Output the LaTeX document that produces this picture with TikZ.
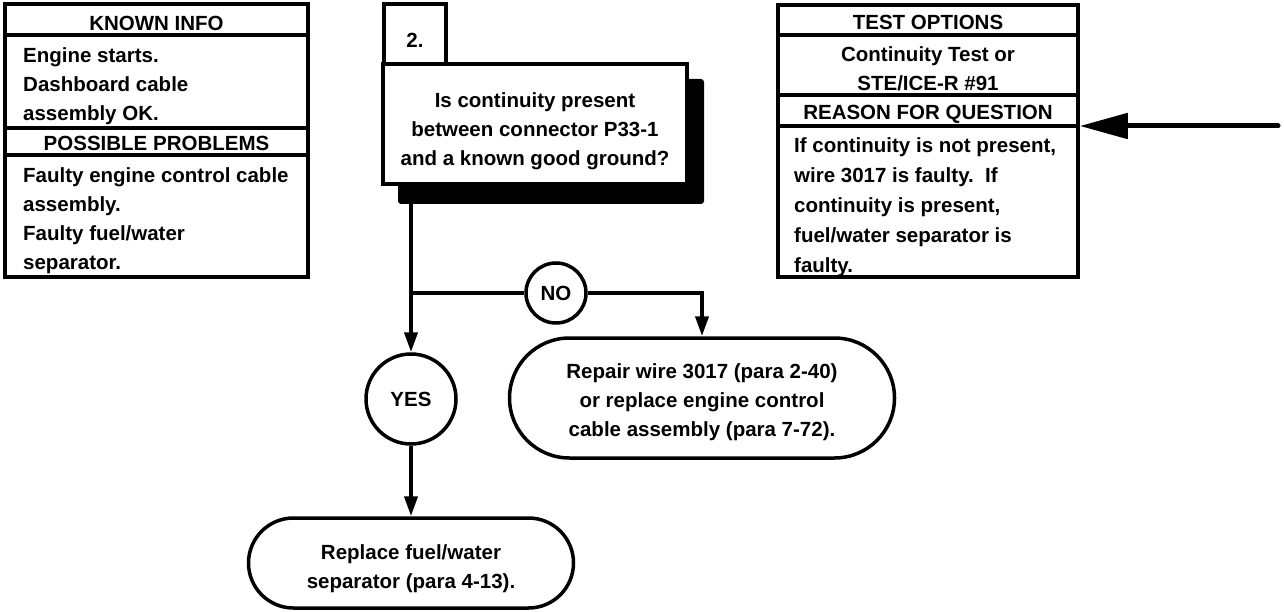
\documentclass[tikz,border=0pt]{standalone}
\usepackage{fontspec}
\setmainfont{Liberation Sans}
\usetikzlibrary{arrows.meta,shapes.misc}
\begin{document}
\begin{tikzpicture}[x=1pt,y=-1pt,
  every node/.style={font=\fontsize{20.5pt}{29pt}\selectfont\bfseries},
  rowbox/.style={draw,line width=3.5pt,rectangle,inner sep=0pt,fill=white},
  lrow/.style={rowbox,minimum width=303pt},
  rrow/.style={rowbox,minimum width=300pt},
  qbox/.style={draw,line width=3.5pt,rectangle,inner sep=0pt,fill=white},
  circ/.style={draw,line width=3.5pt,circle,inner sep=0pt,fill=white},
  pill/.style={draw,line width=3.5pt,rounded rectangle,inner sep=0pt,fill=white},
  txt/.style={inner sep=0pt,align=center},
  ltxt/.style={inner sep=0pt,align=left,anchor=west},
  conn/.style={line width=4pt},
  arr/.style={conn,-{Triangle[length=20pt,width=13pt]}},
  bigarr/.style={line width=5pt,line cap=round,-{Triangle[length=48pt,width=25pt]}}
]
\useasboundingbox (0,0) rectangle (1284,612);

% left info box
\node[lrow,minimum height=31pt] (ki) at (156.5,19.5) {};
\node[lrow,minimum height=93pt] (kb) at (156.5,81.5) {};
\node[lrow,minimum height=27pt] (pp) at (156.5,141.5) {};
\node[lrow,minimum height=122pt] (pb) at (156.5,216) {};
\node[txt] (kit) at (156.5,23) {KNOWN INFO};
\node[ltxt] (kbt) at (23,86) {Engine starts.\\Dashboard cable\\assembly OK.};
\node[txt] (ppt) at (156.5,143.5) {POSSIBLE PROBLEMS};
\node[ltxt] (pbt) at (23,220.5) {Faulty engine control cable\\assembly.\\Faulty fuel/water\\separator.};

% right info box
\node[rrow,minimum height=30pt] (to) at (928,20) {};
\node[rrow,minimum height=60pt] (tb) at (928,65) {};
\node[rrow,minimum height=31pt] (rh) at (928,110.5) {};
\node[rrow,minimum height=151pt] (rb) at (928,201.5) {};
\node[txt] (tot) at (928,22.5) {TEST OPTIONS};
\node[txt] (tbt) at (928,68.5) {Continuity Test or\\STE/ICE-R \#91};
\node[txt] (rht) at (928,114.5) {REASON FOR QUESTION};
\node[ltxt,font=\fontsize{20.5pt}{30pt}\selectfont\bfseries] (rbt) at (794,207.5) {If continuity is not present,\\wire 3017 is faulty.\ \ If\\continuity is present,\\fuel/water separator is\\faulty.};

% question box with shadow
\fill[rounded corners=3pt] (398,79) rectangle (704,204);
\node[qbox,minimum width=62pt,minimum height=60pt] (num) at (415,34) {};
\node[qbox,minimum width=304pt,minimum height=120pt] (q) at (535,124) {};
\node[txt] (numt) at (415,40) {2.};
\node[txt] (qt) at (535,131) {Is continuity present\\between connector P33-1\\and a known good ground?};

% decisions and results
\node[circ,minimum size=60pt] (no) at (556,293) {NO};
\node[circ,minimum size=90pt] (yes) at (411,399) {YES};
\node[pill,minimum width=385pt,minimum height=120pt] (rep) at (702,398) {};
\node[pill,minimum width=325pt,minimum height=90pt] (repl) at (411,563) {};
\node[txt] (rept) at (702,402) {Repair wire 3017 (para 2-40)\\or replace engine control\\cable assembly (para 7-72).};
\node[txt] (replt) at (411,569) {Replace fuel/water\\separator (para 4-13).};

% connectors
\coordinate (j) at (411,293);
\coordinate (src) at (1278,126);
\draw[conn] (411,204) -- (j);
\draw[conn] (j) -- (no);
\draw[arr] (no) -| (rep);
\draw[arr] (j) -- (yes);
\draw[arr] (yes) -- (repl);
\draw[bigarr] (src) -- (src -| rh.east);
\end{tikzpicture}
\end{document}
